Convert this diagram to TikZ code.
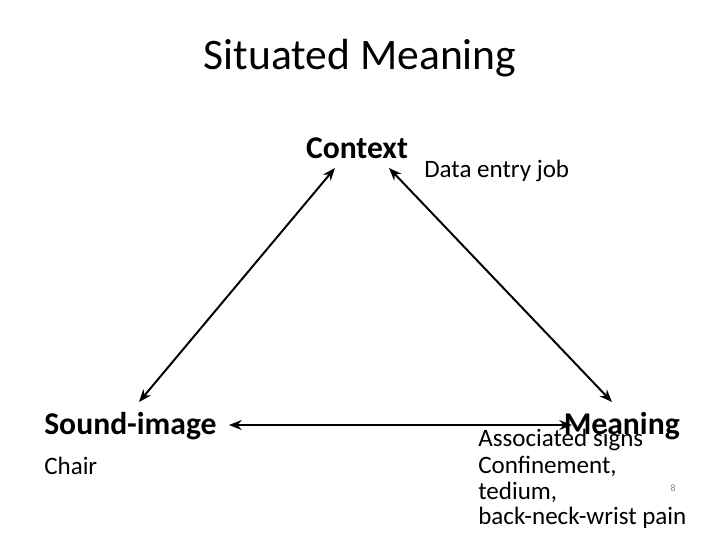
\documentclass[tikz,border=0pt]{standalone}
\usepackage{fontspec}
\setmainfont{Carlito}
\usetikzlibrary{arrows.meta}
\begin{document}
\begin{tikzpicture}[x=0.025cm,y=-0.025cm,
  lbl/.style={anchor=west,inner sep=0pt,font=\fontsize{17.8}{17.8}\selectfont},
  vtx/.style={inner sep=0pt,font=\fontsize{22.5}{22.5}\selectfont\bfseries},
  link/.style={{Stealth[length=9pt,width=7pt]}-{Stealth[length=9pt,width=7pt]},line width=1.4pt}]
\useasboundingbox (0,0) rectangle (720,540);
\node[inner sep=0pt,font=\fontsize{31}{31}\selectfont] (title) at (360,58) {Situated Meaning};
%
\node[vtx] (ctx) at (357,148) {Context};
\node[lbl] (job) at (424,171) {Data entry job};
\node[vtx,anchor=west] (snd) at (44,426) {Sound-image};
\node[lbl] (chair) at (44,466) {Chair};
\node[vtx,anchor=east] (mng) at (680,426) {Meaning};
\node[lbl] (assoc) at (478,440) {Associated signs};
\node[lbl] (conf) at (478,466) {Confinement,};
\node[lbl] (ted) at (478,492) {tedium,};
\node[lbl] (pain) at (478,518) {back-neck-wrist pain};
\node[inner sep=0pt,font=\fontsize{7}{7}\selectfont,text=gray] (pg) at (673,488) {8};
%
\coordinate (a1) at (335,168);
\coordinate (a2) at (139,402);
\coordinate (b1) at (389,168);
\coordinate (b2) at (612,402);
\coordinate (c1) at (229,425);
\coordinate (c2) at (572,425);
\draw[link] (a1) -- (a2);
\draw[link] (b1) -- (b2);
\draw[link] (c1) -- (c2);
\end{tikzpicture}
\end{document}
